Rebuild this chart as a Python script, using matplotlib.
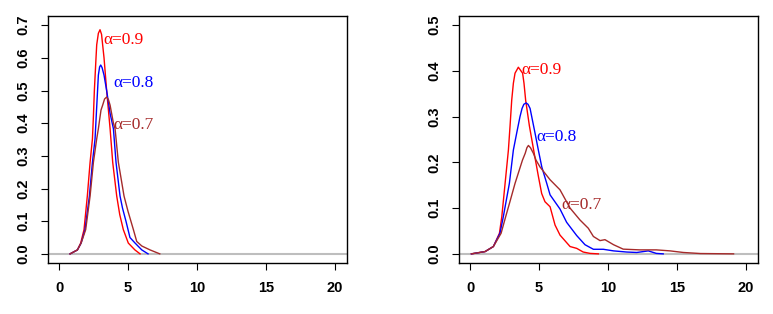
import matplotlib.pyplot as plt

# left panel, density curves
l_x9 = [0.8, 1.33, 1.57, 1.81, 2.05, 2.25, 2.42, 2.49, 2.56, 2.68, 2.73, 2.85, 2.97, 3.08, 3.16, 3.26, 3.45, 3.7, 3.89, 4.18, 4.4, 4.66, 5.02, 5.5, 5.87]
l_y9 = [0, 0.012, 0.033, 0.074, 0.177, 0.28, 0.352, 0.42, 0.5, 0.6, 0.64, 0.675, 0.686, 0.672, 0.64, 0.6, 0.5, 0.383, 0.28, 0.177, 0.12, 0.074, 0.033, 0.012, 0]
l_x8 = [0.8, 1.33, 1.6, 1.88, 2.2, 2.42, 2.61, 2.73, 2.85, 2.94, 3.02, 3.12, 3.26, 3.45, 3.7, 3.94, 4.13, 4.42, 4.6, 4.85, 5.14, 5.51, 6.0, 6.45]
l_y8 = [0, 0.012, 0.033, 0.074, 0.177, 0.28, 0.352, 0.45, 0.547, 0.572, 0.578, 0.57, 0.547, 0.5, 0.43, 0.383, 0.28, 0.177, 0.14, 0.1, 0.05, 0.033, 0.012, 0]
l_x7 = [0.8, 1.33, 1.6, 1.93, 2.25, 2.49, 2.73, 2.85, 3.04, 3.16, 3.3, 3.45, 3.58, 3.7, 3.94, 4.06, 4.3, 4.5, 4.71, 5.0, 5.39, 5.63, 6.0, 6.6, 7.3]
l_y7 = [0, 0.012, 0.033, 0.074, 0.177, 0.28, 0.352, 0.383, 0.44, 0.455, 0.474, 0.48, 0.472, 0.455, 0.4, 0.383, 0.28, 0.23, 0.177, 0.13, 0.074, 0.038, 0.024, 0.012, 0]

# right panel
r_x9 = [0.1, 1.09, 1.69, 2.13, 2.3, 2.54, 2.78, 2.9, 3.02, 3.14, 3.26, 3.5, 3.81, 3.91, 4.03, 4.3, 4.65, 4.95, 5.19, 5.43, 5.8, 6.16, 6.52, 7.25, 7.73, 8.2, 8.7, 9.3]
r_y9 = [0, 0.005, 0.016, 0.045, 0.081, 0.154, 0.227, 0.28, 0.336, 0.373, 0.395, 0.408, 0.395, 0.373, 0.336, 0.28, 0.22, 0.17, 0.132, 0.114, 0.103, 0.063, 0.041, 0.016, 0.012, 0.004, 0.001, 0]
r_x8 = [0.1, 1.09, 1.69, 2.17, 2.41, 2.85, 3.14, 3.38, 3.62, 3.77, 3.9, 4.06, 4.2, 4.35, 4.47, 4.71, 4.95, 5.2, 5.56, 5.8, 6.52, 7.0, 7.73, 8.33, 8.94, 9.66, 10.4, 11.35, 12.08, 12.92, 13.5, 14.0]
r_y8 = [0, 0.005, 0.016, 0.045, 0.081, 0.154, 0.227, 0.264, 0.3, 0.318, 0.327, 0.33, 0.327, 0.318, 0.3, 0.264, 0.227, 0.19, 0.154, 0.129, 0.098, 0.069, 0.04, 0.02, 0.01, 0.01, 0.0065, 0.004, 0.003, 0.0065, 0.001, 0]
r_x7 = [0.1, 1.09, 1.69, 2.25, 2.58, 2.9, 3.26, 3.8, 4.0, 4.12, 4.23, 4.38, 4.59, 4.78, 5.07, 5.8, 6.52, 7.25, 7.97, 8.57, 8.94, 9.42, 9.78, 10.4, 11.1, 12.3, 13.5, 14.5, 15.46, 16.7, 19.1]
r_y7 = [0, 0.005, 0.016, 0.045, 0.081, 0.115, 0.154, 0.205, 0.22, 0.232, 0.237, 0.232, 0.22, 0.205, 0.19, 0.162, 0.14, 0.1, 0.074, 0.056, 0.038, 0.029, 0.031, 0.02, 0.0103, 0.0087, 0.0087, 0.0065, 0.003, 0.0007, 0]

labels = ['α=0.9', 'α=0.8', 'α=0.7']
colors = ['#FF0000', '#0000FF', '#A52A2A']
l_lab = [(3.2, 0.655), (3.97, 0.522), (3.97, 0.393)]
r_lab = [(3.74, 0.402), (4.78, 0.255), (6.64, 0.107)]

fig = plt.figure(figsize=(7.73, 3.14), dpi=100)
ax1 = fig.add_axes([0.0621, 0.1624, 0.3868, 0.7866])
ax2 = fig.add_axes([0.5938, 0.1624, 0.3868, 0.7866])

panels = [
    (ax1, [(l_x9, l_y9), (l_x8, l_y8), (l_x7, l_y7)], l_lab, 0.7, [0, 0.1, 0.2, 0.3, 0.4, 0.5, 0.6, 0.7]),
    (ax2, [(r_x9, r_y9), (r_x8, r_y8), (r_x7, r_y7)], r_lab, 0.5, [0, 0.1, 0.2, 0.3, 0.4, 0.5]),
]

for ax, curves, labpos, ymax, yt in panels:
    ax.axhline(0, color='#BEBEBE', lw=1.5, zorder=1)
    for (x, y), c, lab, (tx, ty) in zip(curves, colors, labels, labpos):
        ax.plot(x, y, color=c, lw=1.0, zorder=2)
        ax.text(tx, ty, lab, color=c, fontsize=12.5, family='Liberation Serif',
                ha='left', va='center')
    ax.set_xlim(-0.8, 20.87)
    ax.set_ylim(-ymax * 0.04, ymax * 1.04)
    ax.set_xticks([0, 5, 10, 15, 20])
    ax.set_yticks(yt)
    ax.set_yticklabels(['%.1f' % v for v in yt], rotation=90, va='center')
    ax.tick_params(direction='out', length=5, width=0.8, pad=8, labelsize=10.5)
    ax.tick_params(axis='y', pad=8)
    for lbl in ax.get_xticklabels() + ax.get_yticklabels():
        lbl.set_family('Liberation Sans')
        lbl.set_fontweight('bold')
    for s in ax.spines.values():
        s.set_linewidth(1.0)

fig.savefig('out.png', dpi=100)
